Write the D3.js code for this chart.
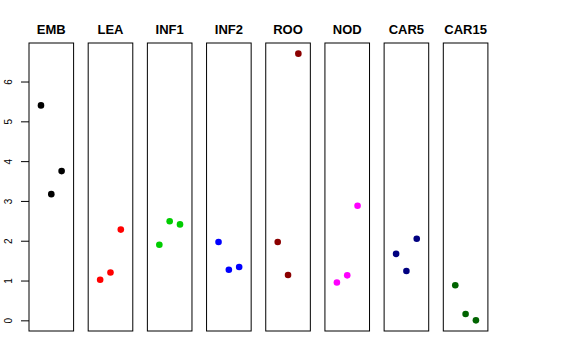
<!DOCTYPE html>
<html><head><meta charset="utf-8">
<script src="https://cdn.jsdelivr.net/npm/d3@7/dist/d3.min.js"></script>
<style>body{margin:0;background:#fff}</style>
</head><body>
<svg id="c" width="576" height="360"></svg>
<script>
const panels = ["EMB","LEA","INF1","INF2","ROO","NOD","CAR5","CAR15"];
const colors = ["#000000","#FF0000","#00CD00","#0000FF","#8B0000","#FF00FF","#000080","#006400"];
const EMB = [5.40, 3.17, 3.75];
const LEA = [1.02, 1.20, 2.28];
const INF1 = [1.90, 2.49, 2.41];
const INF2 = [1.97, 1.27, 1.34];
const ROO = [1.97, 1.14, 6.70];
const NOD = [0.95, 1.13, 2.88];
const CAR5 = [1.67, 1.24, 2.05];
const CAR15 = [0.88, 0.16, 0.00];
const values = [EMB, LEA, INF1, INF2, ROO, NOD, CAR5, CAR15];
const yTicks = [0,1,2,3,4,5,6];

const svg = d3.select("#c");
const plotTop = 43, plotBottom = 331;
const y = d3.scaleLinear().domain([-0.268, 6.968]).range([plotBottom, plotTop]);
const panelX = d3.scaleLinear().domain([0, panels.length-1]).range([29, 443.3]);
const pw = 44.6;
const font = "Liberation Sans, Arial, Helvetica, sans-serif";

panels.forEach((name, i) => {
  const x0 = panelX(i);
  const x = d3.scaleLinear().domain([-0.16, 4.16]).range([x0, x0 + pw]);
  const g = svg.append("g");
  g.append("rect").attr("x", x0).attr("y", plotTop).attr("width", pw).attr("height", plotBottom - plotTop)
    .attr("fill", "none").attr("stroke", "#000").attr("stroke-width", 1);
  g.append("text").attr("x", x0 + pw/2).attr("y", 34).attr("text-anchor", "middle")
    .attr("font-family", font).attr("font-weight", "bold")
    .attr("font-size", 13).text(name);
  g.selectAll("circle").data(values[i]).join("circle")
    .attr("cx", (d, j) => x(j + 1)).attr("cy", d => y(d)).attr("r", 3.3)
    .attr("fill", colors[i]);
});

const ax = svg.append("g").attr("transform", "translate(29,0)")
  .call(d3.axisLeft(y).tickValues(yTicks).tickSize(8).tickFormat(d3.format("d")));
ax.select(".domain").remove();
ax.selectAll(".tick line").attr("stroke", "#000");
ax.selectAll(".tick text").attr("font-family", font).attr("font-size", 10).attr("fill", "#000")
  .attr("text-anchor", "middle").attr("transform", "rotate(-90)")
  .attr("x", 0).attr("y", -20.5).attr("dy", "0.35em");
</script>
</body></html>
